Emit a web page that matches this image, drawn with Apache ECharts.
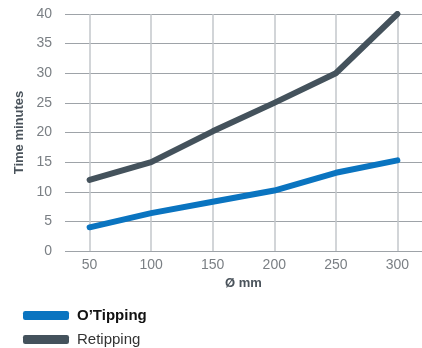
<!DOCTYPE html>
<html lang="en">
<head>
    <meta charset="UTF-8">
    <title>Time minutes</title>
    <script src="https://cdn.jsdelivr.net/npm/echarts@6/dist/echarts.min.js"></script>
    <style>html,body{margin:0;padding:0;background:#fff;}</style>
</head>
<body>
<div id="main" style="width: 422px;height:348px;"></div>

<script type="text/javascript">
    var diameters = [50, 100, 150, 200, 250, 300];
    var oTipping = [4, 6.4, 8.3, 10.2, 13.2, 15.3];
    var retipping = [12, 15, 20.2, 25, 30, 40];

    var font = '"Liberation Sans Narrow", "Liberation Sans", Arial, sans-serif';

    function pairs(vals) {
        return diameters.map(function (d, i) { return [d, vals[i]]; });
    }

    // 每个图例单独一行
    function legendRow(name, top, bold) {
        return {
            left: 23,
            top: top,
            padding: 0,
            itemWidth: 46,
            itemHeight: 9,
            icon: 'roundRect',
            textStyle: { fontFamily: font, fontSize: 15, color: bold ? '#111' : '#333', fontWeight: bold ? 'bold' : 'normal', padding: [0, 0, 0, 3] },
            data: [name]
        };
    }

    var myChart = echarts.init(document.getElementById('main'));

    myChart.setOption({
        animation: false,
        textStyle: { fontFamily: font },
        grid: { left: 65, right: 0, top: 14, bottom: 97 },
        xAxis: {
            type: 'value',
            min: 30,
            max: 320,
            name: 'Ø mm',
            nameLocation: 'middle',
            nameGap: 20,
            nameTextStyle: { fontFamily: font, fontWeight: 'bold', fontSize: 13, color: '#4a535b' },
            axisLine: { show: false },
            axisTick: { show: false },
            splitLine: { show: false },
            axisLabel: { customValues: diameters, color: '#7a7f84', fontSize: 14, margin: 7 }
        },
        yAxis: {
            type: 'value',
            min: 0,
            max: 40,
            interval: 5,
            name: 'Time minutes',
            nameLocation: 'middle',
            nameGap: 37,
            nameTextStyle: { fontFamily: font, fontWeight: 'bold', fontSize: 13, color: '#4a535b' },
            axisLine: { show: false },
            axisTick: { show: false },
            axisLabel: { color: '#7a7f84', fontSize: 14, margin: 13 },
            splitLine: { lineStyle: { color: '#9ea3a8', width: 1 } }
        },
        legend: [
            legendRow('O’Tipping', 308, true),
            legendRow('Retipping', 332, false)
        ],
        series: [
            {
                name: 'Retipping',
                type: 'line',
                data: pairs(retipping),
                showSymbol: false,
                color: '#44525c',
                lineStyle: { width: 6, cap: 'round', join: 'round', color: '#44525c' },
                z: 3,
                markLine: {
                    silent: true,
                    symbol: 'none',
                    label: { show: false },
                    lineStyle: { color: '#c3c7cb', width: 1.5, type: 'solid' },
                    data: diameters.map(function (d) { return { xAxis: d }; }),
                    z: 1
                }
            },
            {
                name: 'O’Tipping',
                type: 'line',
                data: pairs(oTipping),
                showSymbol: false,
                color: '#0a74c0',
                lineStyle: { width: 6, cap: 'round', join: 'round', color: '#0a74c0' },
                z: 4
            }
        ]
    });
</script>
</body>
</html>
